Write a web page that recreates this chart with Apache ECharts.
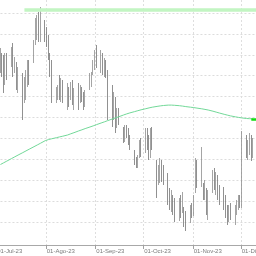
<!DOCTYPE html>
<html><head><meta charset="utf-8">
<script src="https://cdn.jsdelivr.net/npm/echarts@6/dist/echarts.min.js"></script>
<style>html,body{margin:0;padding:0;background:#fff}#c{width:256px;height:256px}</style>
</head><body><div id="c"></div>
<script>
const firstDay = '2023-07-01';
const lastDay = '2023-12-10';
const monthNames = ['Ene','Feb','Mar','Abr','May','Jun','Jul','Ago','Sep','Oct','Nov','Dic'];

// one value per trading day (weekdays), 3-Jul-23 .. 8-Dec-23
const opens = [
 24.0,24.5,23.0,21.7,24.0,23.8,24.8,23.0,23.5,21.5,22.0,20.2,21.5,22.0,23.2,24.0,25.8,26.5,28.0,26.5,27.5,
 26.5,25.5,24.5,23.5,20.0,20.8,22.0,20.5,21.5,20.0,20.8,20.2,21.2,19.4,20.5,20.2,21.0,20.5,19.7,21.5,22.0,22.7,23.8,
 24.5,23.5,24.2,23.0,23.5,22.5,20.0,18.5,19.5,17.5,18.8,17.2,16.2,17.0,16.7,15.8,14.8,14.0,13.5,14.5,15.5,
 15.0,16.7,15.5,14.5,16.5,13.5,12.0,13.0,13.5,12.5,12.0,10.5,9.5,10.2,9.2,8.5,9.5,9.0,9.0,8.0,8.0,9.0,
 8.8,11.0,13.5,12.2,11.5,10.5,11.0,9.2,11.0,12.2,11.7,12.0,10.5,10.0,9.5,8.8,8.2,8.8,8.5,9.0,9.5,10.0,
 10.0,16.0,15.0,15.5,16.0,14.5
];
const closes = [
 24.5,23.0,21.5,24.2,23.0,24.8,23.0,23.8,21.5,22.5,20.0,21.5,22.2,23.5,22.5,25.5,27.5,28.2,26.5,28.5,26.2,
 25.8,24.5,23.0,20.5,20.8,21.2,20.5,21.5,20.2,21.0,20.0,21.4,20.5,20.8,20.0,21.0,20.4,19.5,20.5,22.2,22.5,23.7,24.5,
 24.0,24.2,23.0,23.7,22.8,19.0,18.0,20.0,17.5,18.8,18.0,16.0,17.0,16.5,15.8,15.3,13.8,13.5,14.2,15.5,15.0,
 16.8,15.5,14.5,16.5,15.5,11.0,13.0,13.5,12.2,11.8,10.0,9.5,10.5,9.0,8.2,9.5,8.8,10.2,7.8,7.2,9.0,8.5,
 10.0,13.5,12.5,14.5,10.5,11.2,9.0,10.2,12.5,11.5,12.2,10.5,10.0,9.5,8.8,8.0,9.0,8.5,9.0,9.5,10.0,9.8,
 16.0,15.0,15.5,16.0,14.5,15.5
];
const lows = [
 22.7,22.3,20.7,21.5,22.0,23.3,22.3,22.7,21.0,20.7,18.0,19.7,20.0,21.3,21.5,23.7,25.5,26.0,25.8,25.8,25.8,
 25.3,24.0,22.3,19.7,19.7,20.0,20.0,19.8,19.7,19.0,19.3,20.0,19.5,19.0,19.0,19.7,19.8,19.0,19.3,21.0,21.3,22.5,23.0,
 23.2,22.7,22.5,22.3,22.2,18.0,17.3,18.0,16.7,17.2,17.5,15.7,15.8,16.2,15.5,15.0,13.5,13.2,13.2,14.2,14.3,
 14.7,15.0,14.0,14.2,15.0,10.2,11.5,11.7,11.8,11.5,9.5,9.0,8.8,8.5,7.8,7.9,8.2,8.7,7.3,6.9,7.7,8.2,
 8.4,10.7,11.2,11.3,10.0,10.0,8.5,8.0,10.7,11.0,10.5,10.0,9.5,9.0,8.2,7.5,7.8,8.0,7.5,8.5,9.0,9.2,
 9.2,14.2,14.0,14.5,13.9,14.2
];
const highs = [
 25.2,24.7,24.5,24.7,24.7,25.3,25.7,24.3,23.8,23.3,22.7,22.3,23.0,24.0,24.0,26.0,28.2,28.5,28.8,29.3,28.0,
 27.3,26.5,24.7,24.0,21.3,21.5,22.5,22.2,22.0,21.7,21.3,21.8,22.0,21.2,21.7,21.5,21.3,20.8,21.0,22.7,22.8,24.0,25.0,
 25.5,25.0,24.7,24.2,24.0,23.0,21.5,20.8,20.3,19.2,19.2,17.3,17.5,17.5,17.2,16.5,15.0,14.3,14.5,16.0,16.2,
 17.2,17.2,16.5,17.2,17.3,14.0,13.5,14.2,14.0,13.5,12.7,11.2,11.0,10.5,10.2,10.2,10.5,10.8,9.3,8.9,9.5,9.7,
 10.5,14.2,14.0,15.3,11.7,12.0,11.2,11.0,13.0,13.2,12.8,12.5,11.5,11.3,10.5,9.5,9.5,9.7,9.5,10.0,10.5,10.5,
 16.9,16.5,16.0,16.7,16.5,16.2
];
const ma200 = [
 13.55,13.63,13.72,13.80,13.89,14.15,14.23,14.32,14.40,14.49,14.74,14.83,14.91,15.00,15.08,15.33,15.42,15.50,15.59,15.67,15.93,
 16.00,16.04,16.08,16.12,16.23,16.27,16.31,16.34,16.38,16.50,16.56,16.62,16.68,16.73,16.91,16.97,17.02,17.08,17.14,17.30,17.36,17.41,17.47,
 17.53,17.70,17.76,17.81,17.87,17.93,18.10,18.16,18.21,18.27,18.32,18.50,18.55,18.61,18.67,18.71,18.84,18.89,18.93,18.97,19.02,
 19.13,19.17,19.21,19.24,19.28,19.36,19.39,19.41,19.43,19.45,19.49,19.49,19.49,19.48,19.47,19.43,19.41,19.39,19.37,19.34,19.28,19.26,
 19.24,19.22,19.19,19.12,19.09,19.06,19.03,19.00,18.88,18.84,18.79,18.75,18.70,18.57,18.53,18.49,18.45,18.41,18.32,18.29,18.26,18.23,
 18.21,18.15,18.14,18.13,18.12,18.11
];
const gridValues = [28.7,26.61,24.52,22.43,20.34,18.25,16.16,14.07,11.98,9.89,7.80];
const resistanceLevel = 29.05;
const resistanceStart = '2023-07-18';
const markerStart = '2023-12-07';

// calendar-day categories
const cats = [], candle = [], ma = [];
let k = 0;
for (let t = Date.parse(firstDay + 'T00:00:00Z'); t <= Date.parse(lastDay + 'T00:00:00Z'); t += 86400000) {
  const d = new Date(t);
  cats.push(d.toISOString().slice(0, 10));
  const wd = d.getUTCDay();
  if (wd >= 1 && wd <= 5 && k < opens.length) {
    candle.push([opens[k], closes[k], lows[k], highs[k]]);
    ma.push(ma200[k]);
    k++;
  } else {
    candle.push(['-','-','-','-']);
    ma.push('-');
  }
}
const isMonthStart = (i, v) => String(v).slice(8, 10) === '01';
const lastMa = ma200[ma200.length - 1];

const chart = echarts.init(document.getElementById('c'), null, {renderer: 'canvas'});
chart.setOption({
  animation: false,
  backgroundColor: '#ffffff',
  grid: {left: -3.55, right: -0.9, top: 0, bottom: 11, containLabel: false, outerBoundsMode: 'none'},
  xAxis: {
    type: 'category', data: cats, boundaryGap: true,
    axisLine: {lineStyle: {color: '#a8a8a8', width: 1}},
    axisTick: {show: true, interval: isMonthStart, length: 4, lineStyle: {color: '#a0a0a0'}},
    axisLabel: {
      interval: isMonthStart, align: 'left', margin: 3, fontSize: 6, color: '#7a7a7a',
      fontFamily: 'Liberation Sans', hideOverlap: false,
      formatter: v => v.slice(8, 10) + '-' + monthNames[+v.slice(5, 7) - 1] + '-' + v.slice(2, 4)
    },
    splitLine: {show: true, interval: isMonthStart, lineStyle: {color: '#dedede', type: [2, 2], width: 1}}
  },
  yAxis: {type: 'value', min: 5.5, max: 30, show: false, splitLine: {show: false}},
  series: [
    {
      type: 'candlestick', data: candle, barWidth: 1, z: 2,
      itemStyle: {color: '#d2d2d2', borderColor: '#8e8e8e', color0: '#7a7a7a', borderColor0: '#757575', borderWidth: 0.8},
      markLine: {
        z: 1, silent: true, symbol: 'none', animation: false,
        label: {show: false},
        lineStyle: {color: '#dcdcdc', type: [2, 2], width: 1},
        data: gridValues.map(v => ({yAxis: v}))
      }
    },
    {
      type: 'line', data: ma, connectNulls: true, showSymbol: false, symbol: 'none', z: 3,
      lineStyle: {color: '#72d898', width: 1},
      markLine: {
        silent: true, symbol: 'none', animation: false, label: {show: false},
        data: [
          [{coord: [resistanceStart, resistanceLevel], lineStyle: {color: '#c2f5c2', width: 3.5, type: 'solid'}},
           {coord: [lastDay, resistanceLevel]}],
          [{coord: [markerStart, lastMa], lineStyle: {color: '#11dd11', width: 2.5, type: 'solid'}},
           {coord: [lastDay, lastMa]}]
        ]
      }
    }
  ]
});
</script>
</body></html>
